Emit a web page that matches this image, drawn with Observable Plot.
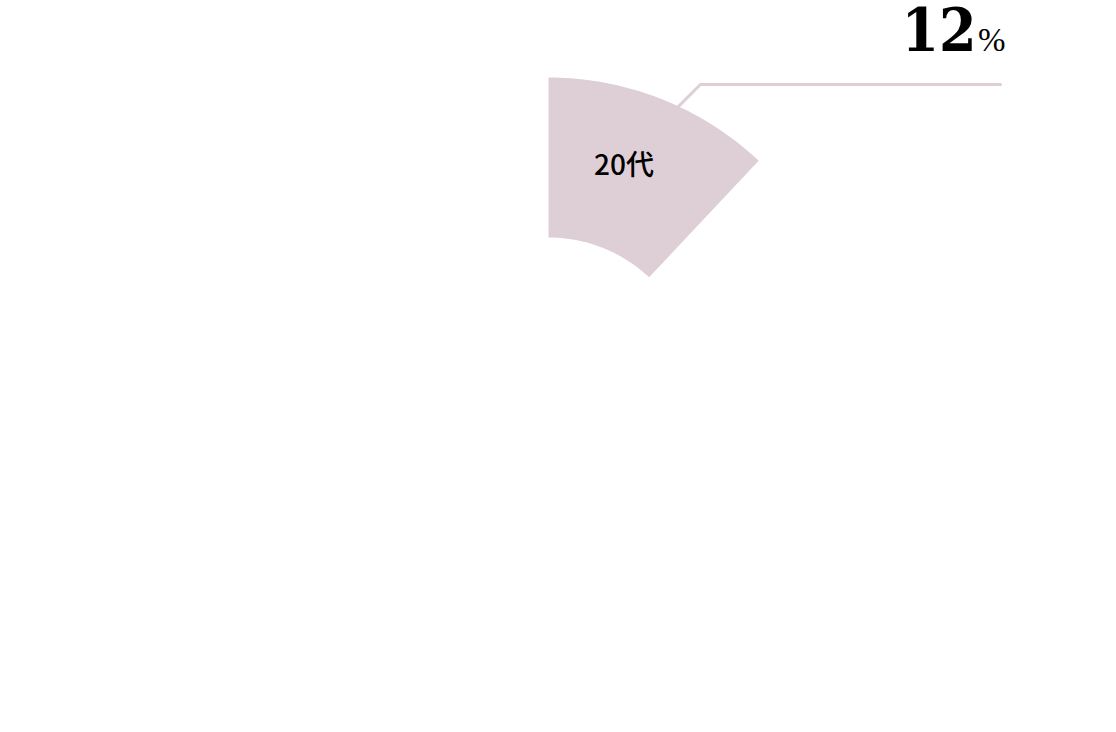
<!DOCTYPE html>
<html><head><meta charset="utf-8">
<script src="https://cdn.jsdelivr.net/npm/d3@7"></script>
<script src="https://cdn.jsdelivr.net/npm/@observablehq/plot@0.6"></script>
<style>html,body{margin:0;padding:0;background:#fff;} svg{display:block;}</style>
</head><body><div id="chart"></div>
<script>
const categories = ["20代"];
const values = [12];          // percent
const colors = ["#decfd7"];
const valueLabels = ["12"];
const unitLabel = "%";

const W = 1116, H = 732;
const cx = 548, cy = 384, R = 307, r0 = 147;
const innerRatio = r0 / R;

// build sector polygon in unit coordinates (angle clockwise from top)
const slices = [];
let acc = 0;
values.forEach((v, i) => {
  const a0 = acc / 100 * 2 * Math.PI, a1 = (acc + v) / 100 * 2 * Math.PI;
  acc += v;
  const n = 60, pts = [];
  for (let k = 0; k <= n; k++) { const a = a0 + (a1 - a0) * k / n; pts.push({x: Math.sin(a), y: Math.cos(a), cat: categories[i]}); }
  for (let k = n; k >= 0; k--) { const a = a0 + (a1 - a0) * k / n; pts.push({x: innerRatio * Math.sin(a), y: innerRatio * Math.cos(a), cat: categories[i]}); }
  const am = (a0 + a1) / 2, rm = (1 + innerRatio) / 2;
  slices.push({pts, cat: categories[i], color: colors[i], label: valueLabels[i],
    lx: rm * Math.sin(am), ly: rm * Math.cos(am),
    ex: Math.sin(a0 + (a1 - a0) * 0.58), ey: Math.cos(a0 + (a1 - a0) * 0.58)});
});

const s = slices[0];
const elbowY = (cy - 84) / R;
const elbowX = s.ex + (elbowY - s.ey);
const endX = (1000 - cx) / R;
const leader = [{x: s.ex, y: s.ey}, {x: elbowX, y: elbowY}, {x: endX, y: elbowY}];

const plot = Plot.plot({
  width: W, height: H,
  margin: 0,
  x: {domain: [-cx / R, (W - cx) / R], axis: null},
  y: {domain: [-(H - cy) / R, cy / R], axis: null},
  marks: [
    Plot.line(leader, {x: "x", y: "y", stroke: s.color, strokeWidth: 3, curve: "linear"}),
    ...slices.map(sl => Plot.line(sl.pts, {x: "x", y: "y", fill: sl.color, stroke: "none", curve: "linear-closed"})),
    Plot.text(slices, {x: "lx", y: "ly", text: "cat", fill: "#000", fontSize: 28, fontWeight: 500,
      fontFamily: "'Noto Sans CJK JP', 'Noto Sans', sans-serif", dx: -8, dy: -7}),
    Plot.text([{x: endX, y: elbowY, t: s.label}], {x: "x", y: "y", text: "t", textAnchor: "end",
      lineAnchor: "bottom", dx: -24, dy: -34, fontSize: 60, fontWeight: "bold", fill: "#000",
      fontFamily: "'DejaVu Serif Condensed', 'DejaVu Serif', serif"}),
    Plot.text([{x: endX, y: elbowY, t: unitLabel}], {x: "x", y: "y", text: "t", textAnchor: "end",
      lineAnchor: "bottom", dx: 5, dy: -34, fontSize: 33, fill: "#000",
      fontFamily: "'Liberation Serif', serif"})
  ]
});
d3.select(plot).selectAll("text").filter(function () { return this.textContent === valueLabels[0]; })
  .style("font-stretch", "condensed");
document.getElementById("chart").appendChild(plot);
</script></body></html>
